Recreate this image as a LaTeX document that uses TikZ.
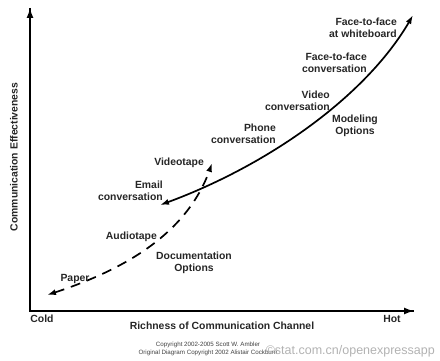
\documentclass[tikz,border=0pt]{standalone}
\usepackage{fontspec}
\setmainfont{Liberation Sans}
\usetikzlibrary{arrows.meta,bending}
\tikzset{
  lbl/.style={inner sep=0pt, font=\bfseries\fontsize{10.4}{12}\selectfont, text=black!85},
  lblr/.style={lbl, anchor=east, align=right},
  lblc/.style={lbl, align=center},
  axis/.style={line width=1.6pt, -{Latex[length=10pt,width=7pt]}},
  curve/.style={line width=1.7pt, {Latex[length=9pt,width=6pt]}-{Latex[length=9pt,width=6pt]}},
  note/.style={inner sep=0pt, font=\fontsize{6.2}{8}\selectfont, text=black!75, align=center},
}
\begin{document}
\begin{tikzpicture}[x=1pt,y=-1pt]
\useasboundingbox (0,0) rectangle (440,361);
% axes
\coordinate (O) at (30,311);
\coordinate (ytop) at (30,8);
\coordinate (xend) at (414,311);
\draw[line width=1.6pt] (ytop) -- (O) -- (xend);
\draw[axis] (O) -- (ytop);
\draw[axis] (O) -- (xend);
% axis labels
\node[lbl, rotate=90] (yl) at (14,157) {Communication Effectiveness};
\node[lbl] (xl) at (222,326) {Richness of Communication Channel};
\node[lbl] (cold) at (42,319) {Cold};
\node[lbl] (hot) at (392,319) {Hot};
% curves
\coordinate (s0) at (160,205);
\coordinate (s1) at (265,168);
\coordinate (s2) at (370,95);
\coordinate (s3) at (413,15);
\draw[curve] (s0) .. controls (s1) and (s2) .. (s3);
\coordinate (d0) at (47,295);
\coordinate (d1) at (120,272);
\coordinate (d2) at (190,235);
\coordinate (d3) at (212,163);
\draw[curve, dash pattern=on 10pt off 7pt] (d0) .. controls (d1) and (d2) .. (d3);
% labels
\node[lblr] (wb) at (397,28) {Face-to-face\\at whiteboard};
\node[lblr] (ffc) at (367,63) {Face-to-face\\conversation};
\node[lblr] (vc) at (330,101) {Video\\conversation};
\node[lblr] (pc) at (276,134) {Phone\\conversation};
\node[lblc] (mo) at (355,126) {Modeling\\Options};
\node[lblr] (vt) at (204,163) {Videotape};
\node[lblr] (em) at (163,191) {Email\\conversation};
\node[lblr] (at) at (157,237) {Audiotape};
\node[lblc] (do) at (194,263) {Documentation\\Options};
\node[lbl] (pa) at (75,279) {Paper};
% copyright
\node[note] (c1) at (208,345) {Copyright 2002-2005 Scott W. Ambler};
\node[note] (c2) at (208,353) {Original Diagram Copyright 2002 Alistair Cockburn};
\node[inner sep=0pt, anchor=east, font=\fontsize{12.5}{14}\selectfont, text=gray!60] (wm) at (435,351) {©stat.com.cn/openexpressapp};
\end{tikzpicture}
\end{document}
